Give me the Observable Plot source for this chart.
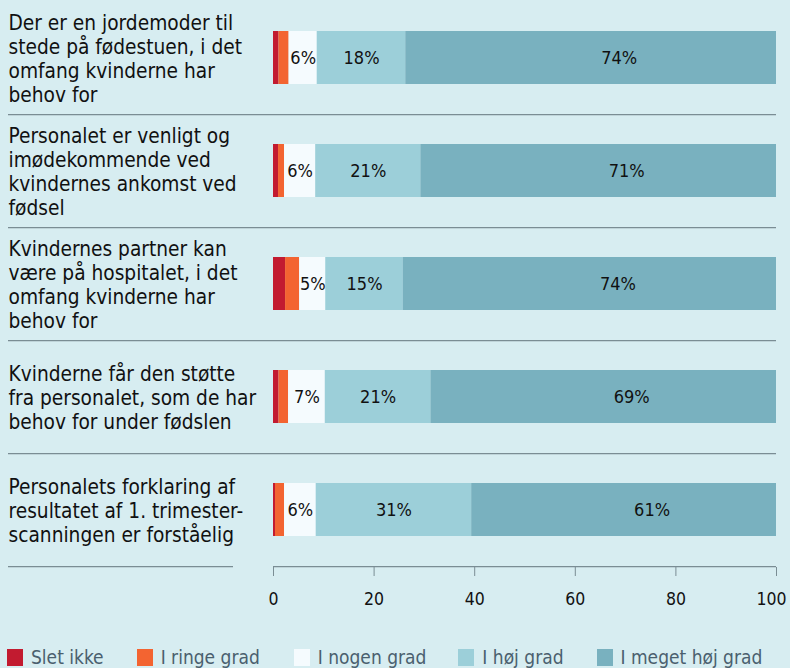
<!DOCTYPE html>
<html>
<head>
<meta charset="utf-8">
<script src="https://cdn.jsdelivr.net/npm/d3@7"></script>
<script src="https://cdn.jsdelivr.net/npm/@observablehq/plot@0.6"></script>
<style>
  html, body { margin: 0; padding: 0; background: #d7edf1; }
  body { width: 790px; height: 668px; overflow: hidden; font-family: "DejaVu Sans Condensed", sans-serif; }
  #legend { display: flex; align-items: center; position: absolute; top: 646px; left: 7px; font-size: 19px; color: #4a5f6e; white-space: nowrap; }
  #legend .item { display: flex; align-items: center; }
  #legend .sw { width: 16px; height: 17px; margin-right: 8px; }
</style>
</head>
<body>
<div id="chart"></div>
<div id="legend"></div>
<script>
const questions = [
  "Der er en jordemoder til\nstede på fødestuen, i det\nomfang kvinderne har\nbehov for",
  "Personalet er venligt og\nimødekommende ved\nkvindernes ankomst ved\nfødsel",
  "Kvindernes partner kan\nvære på hospitalet, i det\nomfang kvinderne har\nbehov for",
  "Kvinderne får den støtte\nfra personalet, som de har\nbehov for under fødslen",
  "Personalets forklaring af\nresultatet af 1. trimester-\nscanningen er forståelig"
];
const categories = ["Slet ikke", "I ringe grad", "I nogen grad", "I høj grad", "I meget høj grad"];
const colors = ["#c21b30", "#f36431", "#f5fbfe", "#9ccfd9", "#79b1bf"];
const sletIkke     = [1.1, 1.0, 2.4, 1.1, 0.4];
const iRingeGrad   = [2.0, 1.2, 2.8, 1.9, 1.8];
const iNogenGrad   = [5.6, 6.2, 5.2, 7.3, 6.3];
const iHoejGrad    = [17.6, 20.9, 15.4, 21.0, 30.9];
const iMegetHoej   = [73.7, 70.7, 74.2, 68.7, 60.6];
const labeled = ["I nogen grad", "I høj grad"];
const xTicks = [0, 20, 40, 60, 80, 100];

const series = [sletIkke, iRingeGrad, iNogenGrad, iHoejGrad, iMegetHoej];
const data = [];
questions.forEach((q, i) => categories.forEach((c, j) => data.push({q, cat: c, value: series[j][i]})));

const font = "'DejaVu Sans Condensed', sans-serif";
const lastTick = xTicks[xTicks.length - 1];
const plot = Plot.plot({
  width: 790,
  height: 640,
  marginLeft: 273,
  marginRight: 14,
  marginTop: 0,
  marginBottom: 73,
  style: {background: "transparent", fontFamily: font, fontSize: "18px", color: "#111"},
  x: {domain: [0, 100], label: null},
  y: {domain: questions, padding: 0, axis: null},
  color: {domain: categories, range: colors},
  marks: [
    Plot.barX(data, Plot.stackX({x: "value", y: "q", z: "cat", order: categories, fill: "cat", insetTop: 30, insetBottom: 30})),
    Plot.text(data.filter(d => d.cat !== "I meget høj grad"), Plot.stackX({x: "value", y: "q", z: "cat", order: categories,
      text: d => labeled.includes(d.cat) ? Math.round(d.value) + "%" : null,
      fill: "#111", fontSize: 18})),
    Plot.text(data.filter(d => d.cat === "I meget høj grad"), {
      x: d => 100 - d.value / 2, y: "q", dx: 28,
      text: d => Math.round(d.value) + "%", fill: "#111", fontSize: 18}),
    Plot.text(questions, {y: d => d, frameAnchor: "left", dx: -265, textAnchor: "start", lineHeight: 1.16, fontSize: 20.7, fill: "#111"}),
    Plot.ruleY(questions.slice(0, 4), {y: d => d, dy: 56.7, stroke: "#7a8d94", strokeWidth: 1.2, insetLeft: -265}),
    Plot.ruleY(questions.slice(4), {y: d => d, dy: 56.7, stroke: "#7a8d94", strokeWidth: 1.2, insetLeft: -265, insetRight: 543}),
    Plot.ruleY(questions.slice(4), {y: d => d, dy: 56.7, stroke: "#7a8d94", strokeWidth: 1.2}),
    Plot.axisX(xTicks, {tickSize: 9, tickPadding: 16, stroke: "#7a8d94", fill: "#111", fontSize: 17.5,
      tickFormat: d => d === lastTick ? "" : String(d)}),
    Plot.axisX([lastTick], {tickSize: 0, tickPadding: 25, dx: -5, fill: "#111", fontSize: 17.5})
  ]
});
document.getElementById("chart").appendChild(plot);

const legend = document.getElementById("legend");
const gaps = [33, 34, 32, 33, 0];
categories.forEach((c, i) => {
  const it = document.createElement("div");
  it.className = "item";
  it.style.marginRight = gaps[i] + "px";
  const sw = document.createElement("div");
  sw.className = "sw";
  sw.style.background = colors[i];
  const t = document.createElement("span");
  t.textContent = c;
  it.appendChild(sw); it.appendChild(t);
  legend.appendChild(it);
});
</script>
</body>
</html>
